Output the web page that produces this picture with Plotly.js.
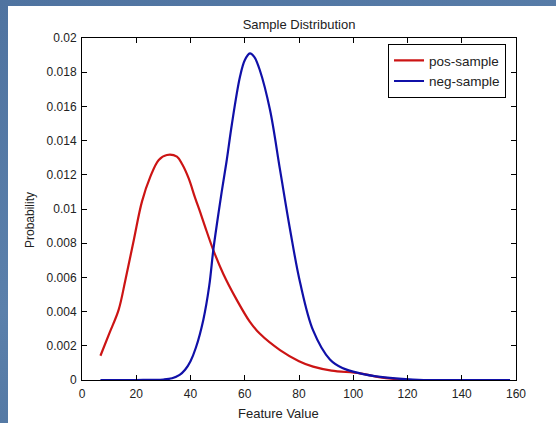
<!DOCTYPE html>
<html>
<head>
<meta charset="utf-8">
<script src="https://cdn.plot.ly/plotly-3.0.1.min.js"></script>
<style>
  html, body { margin:0; padding:0; width:556px; height:423px; overflow:hidden;
    background: linear-gradient(160deg, #4f73a0 0%, #5b80ab 50%, #4a6e99 100%); }
  #chart { position:absolute; left:8px; top:6px; width:548px; height:417px; }
</style>
</head>
<body>
<div id="chart"></div>
<script>
// pos-sample (red)
const posX = [6.8, 10, 13.5, 16, 19.1, 22.1, 25.2, 28.3, 31.3, 35, 37, 39.3, 41.7, 43.6, 45.3, 48.4, 52.1, 57, 61.9, 65.6, 73, 80, 85.2, 92, 102.5, 110, 120];
const posY = [0.00142, 0.0027, 0.0041, 0.00585, 0.00819, 0.01043, 0.01189, 0.01287, 0.01316, 0.01306, 0.0126, 0.0118, 0.01065, 0.0098, 0.0090, 0.0076, 0.0062, 0.0047, 0.0034, 0.0027, 0.00175, 0.0011, 0.00078, 0.00055, 0.00039, 0.00015, 0.0];
// neg-sample (blue)
const negX = [6.8, 20, 30, 33.2, 36, 38, 40, 42, 44.7, 46.9, 48.4, 49.9, 51.5, 53.4, 55.2, 58.2, 60, 61.9, 63.5, 65.6, 69.3, 73, 76.7, 80.4, 85.2, 91.4, 96, 102.5, 110, 118, 126, 140, 157.8];
const negY = [0.0, 0.0, 0.00003, 0.0001, 0.0003, 0.0006, 0.0011, 0.0019, 0.0035, 0.0055, 0.0076, 0.0093, 0.0110, 0.0129, 0.0149, 0.0177, 0.0187, 0.0191, 0.0189, 0.0181, 0.0158, 0.0123, 0.0088, 0.0057, 0.0029, 0.0012, 0.0007, 0.00039, 0.00018, 0.00006, 0.0, 0.0, 0.0];
const names = ["pos-sample", "neg-sample"];
const xTicks = [0, 20, 40, 60, 80, 100, 120, 140, 160];
const yTicks = [0, 0.002, 0.004, 0.006, 0.008, 0.01, 0.012, 0.014, 0.016, 0.018, 0.02];
const yTickText = ["0", "0.002", "0.004", "0.006", "0.008", "0.01", "0.012", "0.014", "0.016", "0.018", "0.02"];

const fam = "Liberation Sans, Arial, sans-serif";
const font = {family: fam, size: 12, color: "#222"};
const font13 = {family: fam, size: 13, color: "#222"};

const traces = [
  {x: posX, y: posY, name: names[0], type: "scatter", mode: "lines",
   line: {color: "#cc1414", width: 2.2, shape: "spline", smoothing: 1}},
  {x: negX, y: negY, name: names[1], type: "scatter", mode: "lines",
   line: {color: "#1010a8", width: 2.2, shape: "spline", smoothing: 1}}
];

const axisCommon = {showgrid: false, zeroline: false, showline: true, linecolor: "#000", linewidth: 1,
  mirror: "ticks", ticks: "inside", ticklen: 5, tickcolor: "#000", tickfont: font};

const layout = {
  width: 548, height: 417,
  margin: {l: 74, r: 40, t: 32, b: 43},
  paper_bgcolor: "#ffffff", plot_bgcolor: "#ffffff",
  font: font,
  title: {text: "Sample Distribution", font: font13, x: 0.5, xref: "paper", y: 1 - 18/417, yref: "container", yanchor: "middle"},
  xaxis: Object.assign({}, axisCommon, {range: [0, 160], tickvals: xTicks, ticktext: xTicks.map(String), ticklabelstandoff: 3}),
  yaxis: Object.assign({}, axisCommon, {range: [0, 0.02], tickvals: yTicks, ticktext: yTickText, ticklabelstandoff: 2}),
  showlegend: true,
  legend: {x: 0.977, xanchor: "right", y: 0.982, yanchor: "top", bordercolor: "#000", borderwidth: 1,
    bgcolor: "#fff", font: {family: fam, size: 13.5, color: "#222"}, tracegroupgap: 0},
  annotations: [
    {text: "Feature Value", xref: "paper", yref: "paper", x: (278-82)/434, y: -33/342, xanchor: "center", yanchor: "middle", showarrow: false, font: font13},
    {text: "Probability", xref: "paper", yref: "paper", x: -52/434, y: (380-220)/342, xanchor: "center", yanchor: "middle", textangle: -90, showarrow: false, font: font}
  ]
};

Plotly.newPlot("chart", traces, layout, {displayModeBar: false, staticPlot: true});
</script>
</body>
</html>
